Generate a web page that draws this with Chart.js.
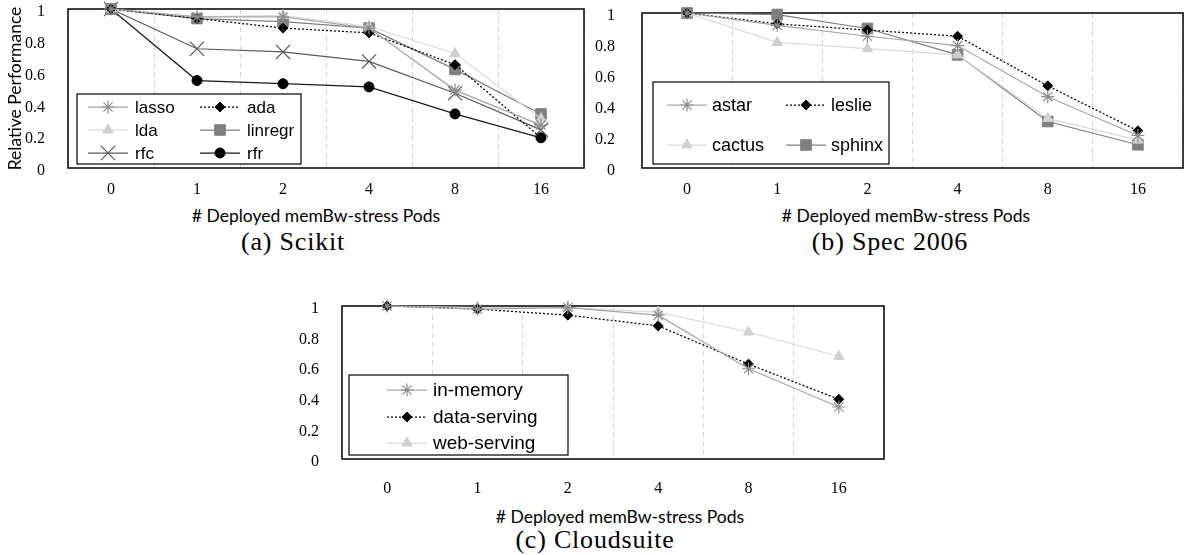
<!DOCTYPE html>
<html>
<head>
<meta charset="utf-8">
<script src="https://cdn.jsdelivr.net/npm/chart.js@4.4.1/dist/chart.umd.min.js"></script>
<style>
  html, body { margin: 0; padding: 0; background: #fff; }
  #page { position: relative; width: 1184px; height: 555px; overflow: hidden; background: #fff; }
  #page canvas { position: absolute; }
  .xtitle { position: absolute; font-family: Lato, sans-serif; font-size: 17.5px; line-height: 20px; color: #000; white-space: nowrap; transform: translateX(-50%); }
  .caption { position: absolute; font-family: "Liberation Serif", serif; font-size: 26px; line-height: 30px; letter-spacing: 0.8px; color: #000; white-space: nowrap; transform: translateX(-50%); }
</style>
</head>
<body>
<div id="page">
  <canvas id="chartA" width="600" height="200" style="left:0;top:0"></canvas>
  <canvas id="chartB" width="592" height="200" style="left:592px;top:0"></canvas>
  <canvas id="chartC" width="620" height="215" style="left:280px;top:290px"></canvas>

  <div class="xtitle" style="left:316px;top:206px"># Deployed memBw-stress Pods</div>
  <div class="xtitle" style="left:906px;top:206px"># Deployed memBw-stress Pods</div>
  <div class="xtitle" style="left:620px;top:507px"># Deployed memBw-stress Pods</div>

  <div class="caption" style="left:293px;top:227px">(a) Scikit</div>
  <div class="caption" style="left:890px;top:227px">(b) Spec 2006</div>
  <div class="caption" style="left:595px;top:525px">(c) Cloudsuite</div>
</div>

<script>
// ---- data ----
const PODS = ['0', '1', '2', '4', '8', '16'];

// (a) Scikit
const lasso   = [1, 0.95, 0.95, 0.88, 0.49, 0.27];
const ada     = [1, 0.94, 0.88, 0.85, 0.65, 0.19];
const lda     = [1, 0.95, 0.96, 0.89, 0.72, 0.31];
const linregr = [1, 0.94, 0.92, 0.88, 0.62, 0.34];
const rfc     = [1, 0.75, 0.73, 0.67, 0.47, 0.24];
const rfr     = [1, 0.55, 0.53, 0.51, 0.34, 0.19];

// (b) Spec 2006
const astar  = [1, 0.92, 0.85, 0.79, 0.46, 0.21];
const leslie = [1, 0.93, 0.89, 0.85, 0.53, 0.24];
const cactus = [1, 0.81, 0.77, 0.73, 0.32, 0.18];
const sphinx = [1, 0.99, 0.90, 0.73, 0.30, 0.15];

// (c) Cloudsuite
const inMemory    = [1, 0.98, 0.99, 0.94, 0.59, 0.34];
const dataServing = [1, 0.98, 0.94, 0.87, 0.62, 0.39];
const webServing  = [1, 0.99, 0.99, 0.96, 0.83, 0.67];

// ---- marker / line looks ----
const LOOK = {
  star: { line: '#a6a6a6', mark: '#8c8c8c', shape: 'star',     r: 6.5, bw: 1.2 },
  dia:  { line: '#000000', mark: '#000000', shape: 'rectRot',  r: 5,   bw: 1, dash: [2, 2] },
  tri:  { line: '#d9d9d9', mark: '#d0d0d0', shape: 'triangle', r: 6,   bw: 1 },
  sq:   { line: '#7f7f7f', mark: '#7f7f7f', shape: 'rect',     r: 7.5, bw: 1 },
  ex:   { line: '#595959', mark: '#595959', shape: 'crossRot', r: 10,  bw: 1.2 },
  dot:  { line: '#1a1a1a', mark: '#000000', shape: 'circle',   r: 5,   bw: 1 }
};

function series(label, data, look) {
  return {
    label, data,
    borderColor: look.line, borderWidth: 1.25, borderDash: look.dash || [],
    pointStyle: look.shape, pointRadius: look.r, pointHoverRadius: look.r,
    pointBackgroundColor: look.mark, pointBorderColor: look.mark, pointBorderWidth: look.bw,
    tension: 0, fill: false, clip: false
  };
}

// black frame round the plot area
const frame = {
  id: 'frame',
  beforeDatasetsDraw(chart) {
    const { ctx, chartArea: a } = chart;
    ctx.save();
    ctx.strokeStyle = '#000';
    ctx.lineWidth = 1.5;
    ctx.strokeRect(a.left, a.top, a.right - a.left, a.bottom - a.top);
    ctx.restore();
  }
};

// boxed legend sitting inside the plot area
const boxLegend = {
  id: 'boxLegend',
  afterDatasetsDraw(chart, args, o) {
    const { ctx, chartArea: a } = chart;
    const x0 = a.left + o.dx, y0 = a.bottom - o.dy - o.h;
    ctx.save();
    ctx.fillStyle = '#fff';
    ctx.fillRect(x0, y0, o.w, o.h);
    ctx.strokeStyle = '#000';
    ctx.lineWidth = 1.2;
    ctx.strokeRect(x0, y0, o.w, o.h);
    ctx.font = o.size + 'px "Liberation Sans", Arial, sans-serif';
    ctx.textBaseline = 'middle';
    chart.data.datasets.forEach((d, i) => {
      const lx = x0 + o.colX[i % o.cols];
      const ly = y0 + o.rowY[Math.floor(i / o.cols)];
      ctx.save();
      ctx.strokeStyle = d.borderColor;
      ctx.lineWidth = d.borderWidth;
      ctx.setLineDash(d.borderDash);
      ctx.beginPath();
      ctx.moveTo(lx, ly);
      ctx.lineTo(lx + o.len, ly);
      ctx.stroke();
      ctx.restore();
      ctx.save();
      ctx.fillStyle = d.pointBackgroundColor;
      ctx.strokeStyle = d.pointBorderColor;
      ctx.lineWidth = d.pointBorderWidth;
      Chart.helpers.drawPoint(ctx, { pointStyle: d.pointStyle, radius: d.pointRadius, rotation: 0, borderWidth: d.pointBorderWidth }, lx + o.len / 2, ly);
      ctx.restore();
      ctx.fillStyle = '#000';
      ctx.fillText(d.label, lx + o.len + o.gap, ly + 1);
    });
    ctx.restore();
  }
};

const TICK_FONT = { family: '"Liberation Serif", serif', size: 16 };

function makeChart(id, datasets, geo, legendOpt, yTitle) {
  return new Chart(document.getElementById(id), {
    type: 'line',
    data: { labels: PODS, datasets },
    options: {
      responsive: false,
      animation: false,
      events: [],
      layout: { autoPadding: false, padding: { top: geo.top, right: geo.right, left: 0, bottom: 0 } },
      plugins: { legend: { display: false }, tooltip: { enabled: false }, boxLegend: legendOpt },
      scales: {
        x: {
          offset: true,
          grid: { offset: true, drawTicks: false, color: '#d4d4d4', lineWidth: 1 },
          border: { display: false, dash: [5, 4] },
          ticks: { color: '#000', font: TICK_FONT, padding: geo.xpad },
          afterFit: s => { s.height = geo.xh; s.paddingLeft = 0; s.paddingRight = 0; }
        },
        y: {
          min: 0, max: 1,
          grid: { display: false },
          border: { display: false },
          ticks: { stepSize: 0.2, color: '#000', font: TICK_FONT, padding: geo.ypad, labelOffset: 3, callback: v => +v.toFixed(1) },
          title: yTitle
            ? { display: true, text: yTitle, color: '#000', font: { family: 'Lato, sans-serif', size: 17.5 }, padding: { top: 5, bottom: 0 } }
            : { display: false },
          // keep the plot area exactly where the figure has it
          afterFit: s => { s.width = geo.yw; s.paddingTop = 0; s.paddingBottom = 0; }
        }
      }
    },
    plugins: [frame, boxLegend]
  });
}

makeChart('chartA', [
  series('lasso', lasso, LOOK.star),
  series('ada', ada, LOOK.dia),
  series('lda', lda, LOOK.tri),
  series('linregr', linregr, LOOK.sq),
  series('rfc', rfc, LOOK.ex),
  series('rfr', rfr, LOOK.dot)
], { top: 9, right: 16, yw: 68, xh: 32, ypad: 15, xpad: 12 },
{ dx: 9, dy: 4, w: 224, h: 70, cols: 2, colX: [11, 123], rowY: [13, 36, 59], len: 40, gap: 7, size: 17 },
'Relative Performance');

makeChart('chartB', [
  series('astar', astar, LOOK.star),
  series('leslie', leslie, LOOK.dia),
  series('cactus', cactus, LOOK.tri),
  series('sphinx', sphinx, LOOK.sq)
], { top: 13, right: 1, yw: 50, xh: 32, ypad: 19, xpad: 12 },
{ dx: 11, dy: 4, w: 236, h: 82, cols: 2, colX: [14, 133], rowY: [23, 63], len: 40, gap: 5, size: 18 },
null);

makeChart('chartC', [
  series('in-memory', inMemory, LOOK.star),
  series('data-serving', dataServing, LOOK.dia),
  series('web-serving', webServing, LOOK.tri)
], { top: 16, right: 16, yw: 62, xh: 46, ypad: 15, xpad: 20 },
{ dx: 7, dy: 4, w: 219, h: 80, cols: 1, colX: [38], rowY: [15, 42, 68], len: 40, gap: 6, size: 19 },
null);
</script>
</body>
</html>
